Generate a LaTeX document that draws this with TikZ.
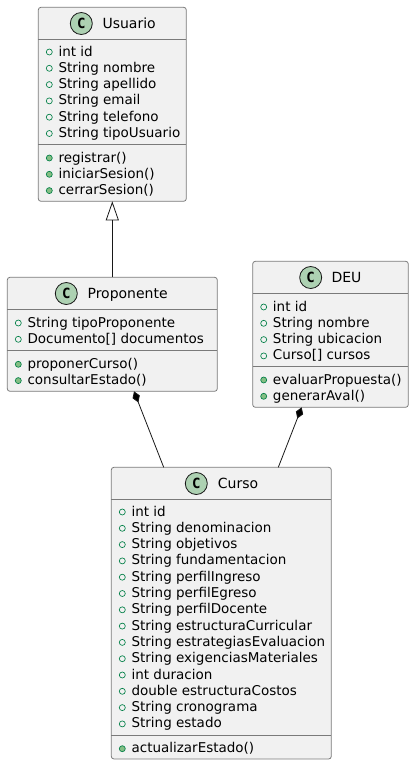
\documentclass[tikz,border=0pt]{standalone}
\usepackage{fontspec}
\setmainfont{DejaVu Sans}
\newfontfamily\cfont{DejaVu Sans Mono}
\usetikzlibrary{arrows.meta,calc}
\definecolor{boxfill}{HTML}{F1F1F1}
\definecolor{edge}{HTML}{181818}
\definecolor{boxline}{HTML}{7A7A7A}
\definecolor{spot}{HTML}{ADD1B2}
\definecolor{iconline}{HTML}{038048}
\definecolor{iconfill}{HTML}{84BE84}
\tikzset{
  classbox/.style={draw=boxline,fill=boxfill,line width=0.6pt,rounded corners=2pt,inner sep=0pt,outer sep=0pt},
  divider/.style={draw=boxline,line width=0.6pt},
  spotc/.style={circle,draw=edge,fill=spot,line width=0.6pt,minimum size=16.5pt,inner sep=0pt,outer sep=0pt,font=\cfont\bfseries\fontsize{10.5pt}{10.5pt}\selectfont},
  title/.style={anchor=base west,inner sep=0pt,font=\fontsize{10.5pt}{12pt}\selectfont},
  member/.style={anchor=base west,inner sep=0pt,font=\fontsize{10.12pt}{12pt}\selectfont},
  link/.style={draw=edge,line width=0.6pt},
  attricon/.style={draw=iconline,line width=0.5pt,fill=none},
  methicon/.style={draw=iconline,line width=0.5pt,fill=iconfill},
}
% name, x1, y1, x2, y2, header-bottom y, attributes-bottom y, spot x, title x
\newcommand{\classblock}[9]{%
  \pgfmathsetmacro{\bw}{(#4-#2)*0.75}%
  \pgfmathsetmacro{\bh}{(#5-#3)*0.75}%
  \node[classbox,minimum width=\bw pt,minimum height=\bh pt,anchor=north west] (#1) at (#2,#3) {};
  \draw[divider] (#2,#6) -- (#4,#6);
  \draw[divider] (#2,#7) -- (#4,#7);
  \node[spotc] (#1spot) at (#8,#3+16.2) {C};
  \node[title] (#1title) at (#9,#3+21) {#1};
}
\newcommand{\attr}[5]{%
  \draw[attricon] (#2+11,#3-4) circle (2.25pt);
  \node[member] (#1) at (#2+20,#3) {#5};
}
\newcommand{\meth}[5]{%
  \draw[methicon] (#2+11,#3-4) circle (2.25pt);
  \node[member] (#1) at (#2+20,#3) {#5};
}
\begin{document}
\begin{tikzpicture}[x=0.75pt,y=-0.75pt]
\useasboundingbox (0,0) rectangle (414,765);
% Usuario
\classblock{Usuario}{38.3}{7.3}{186.3}{201.3}{39.3}{144.3}{81.3}{102.3}
\attr{u1}{38.3}{56}{}{int id}
\attr{u2}{38.3}{72.3}{}{String nombre}
\attr{u3}{38.3}{88.6}{}{String apellido}
\attr{u4}{38.3}{104.9}{}{String email}
\attr{u5}{38.3}{121.2}{}{String telefono}
\attr{u6}{38.3}{137.5}{}{String tipoUsuario}
\meth{u7}{38.3}{162}{}{registrar()}
\meth{u8}{38.3}{178.3}{}{iniciarSesion()}
\meth{u9}{38.3}{194.6}{}{cerrarSesion()}
% Proponente
\classblock{Proponente}{7.3}{277.3}{217.3}{391.3}{309.3}{350.3}{66.3}{87.3}
\attr{p1}{7.3}{327}{}{String tipoProponente}
\attr{p2}{7.3}{343.3}{}{Documento[] documentos}
\meth{p3}{7.3}{368.3}{}{proponerCurso()}
\meth{p4}{7.3}{384.6}{}{consultarEstado()}
% DEU
\classblock{DEU}{252.7}{261.3}{408.3}{407.3}{293.3}{366.3}{310.7}{331.3}
\attr{d1}{252.7}{311}{}{int id}
\attr{d2}{252.7}{327.3}{}{String nombre}
\attr{d3}{252.7}{343.6}{}{String ubicacion}
\attr{d4}{252.7}{359.9}{}{Curso[] cursos}
\meth{d5}{252.7}{384}{}{evaluarPropuesta()}
\meth{d6}{252.7}{400.3}{}{generarAval()}
% Curso
\classblock{Curso}{111.3}{467.3}{331.3}{759}{499.3}{735.3}{196.3}{217.7}
\attr{c1}{111.3}{516}{}{int id}
\attr{c2}{111.3}{532.3}{}{String denominacion}
\attr{c3}{111.3}{548.6}{}{String objetivos}
\attr{c4}{111.3}{564.9}{}{String fundamentacion}
\attr{c5}{111.3}{581.2}{}{String perfilIngreso}
\attr{c6}{111.3}{597.5}{}{String perfilEgreso}
\attr{c7}{111.3}{613.8}{}{String perfilDocente}
\attr{c8}{111.3}{630.1}{}{String estructuraCurricular}
\attr{c9}{111.3}{646.4}{}{String estrategiasEvaluacion}
\attr{c10}{111.3}{662.7}{}{String exigenciasMateriales}
\attr{c11}{111.3}{679}{}{int duracion}
\attr{c12}{111.3}{695.3}{}{double estructuraCostos}
\attr{c13}{111.3}{711.6}{}{String cronograma}
\attr{c14}{111.3}{727.9}{}{String estado}
\meth{c15}{111.3}{752.7}{}{actualizarEstado()}
% Connectors
\coordinate (pTip) at ($(Proponente.south west)+(126.7,0)$);
\coordinate (cLeft) at ($(Curso.north west)+(52.4,0)$);
\coordinate (dTip) at ($(DEU.south west)+(49,0)$);
\coordinate (cRight) at ($(Curso.north west)+(167,0)$);
\draw[link,-{Triangle[open,length=14.25pt,width=9.75pt,fill=white]}] (Proponente.north) -- (Usuario.south);
\draw[link,-{Diamond[length=9pt,width=5.8pt,fill=black]}] (cLeft) -- (pTip);
\draw[link,-{Diamond[length=9pt,width=5.8pt,fill=black]}] (cRight) -- (dTip);
\end{tikzpicture}
\end{document}
